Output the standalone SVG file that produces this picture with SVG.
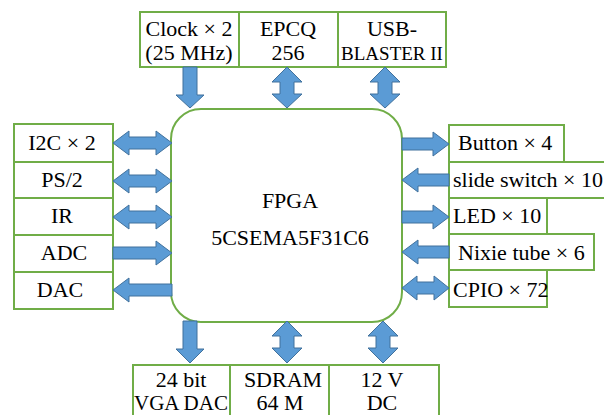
<svg xmlns="http://www.w3.org/2000/svg" width="604" height="415" viewBox="0 0 604 415">
<style>
.box{fill:#fff;stroke:#70AD47;stroke-width:2}
.t{font-family:"Liberation Serif","Times New Roman",serif;font-size:22px;fill:#000}
.m{text-anchor:middle}
.s{font-size:19px}
.b{font-size:21px}
.ar{fill:#5B9BD5;stroke:#41719C;stroke-width:1}
</style>
<rect width="604" height="415" fill="#fff"/>
<g id="fpga">
<rect class="box" x="171" y="109" width="231" height="213" rx="30"/>
<text class="t m" x="290" y="208">FPGA</text>
<text class="t m" x="290" y="245">5CSEMA5F31C6</text>
</g>
<g id="clock"><rect class="box" x="140" y="12" width="99" height="55"/><text class="t m" x="189" y="36">Clock × 2</text><text class="t m" x="189" y="60">(25 MHz)</text></g>
<g id="epcq"><rect class="box" x="239" y="12" width="99" height="55"/><text class="t m" x="288" y="36">EPCQ</text><text class="t m" x="288" y="60">256</text></g>
<g id="usb"><rect class="box" x="338" y="12" width="108" height="55"/><text class="t m" x="392" y="36">USB-</text><text class="t m s" x="392" y="60">BLASTER II</text></g>
<g id="i2c"><rect class="box" x="14" y="124" width="99" height="38"/><text class="t m" x="62" y="150">I2C × 2</text></g>
<g id="ps2"><rect class="box" x="14" y="162" width="99" height="36"/><text class="t m" x="62" y="187">PS/2</text></g>
<g id="ir"><rect class="box" x="14" y="198" width="99" height="37"/><text class="t m" x="62" y="223">IR</text></g>
<g id="adc"><rect class="box" x="14" y="235" width="99" height="37"/><text class="t m" x="64" y="260">ADC</text></g>
<g id="dac"><rect class="box" x="14" y="272" width="99" height="37"/><text class="t m" x="60" y="297">DAC</text></g>
<g id="button"><rect class="box" x="449" y="125" width="115" height="37"/><text class="t" x="458" y="150">Button × 4</text></g>
<g id="slide"><rect class="box" x="449" y="162" width="165" height="36"/><text class="t" x="453" y="187">slide switch × 10</text></g>
<g id="led"><rect class="box" x="449" y="198" width="98" height="36"/><text class="t" x="453" y="223">LED × 10</text></g>
<g id="nixie"><rect class="box" x="449" y="234" width="145" height="36"/><text class="t" x="458" y="260">Nixie tube × 6</text></g>
<g id="cpio"><rect class="box" x="449" y="270" width="98" height="37"/><text class="t" x="453" y="297">CPIO × 72</text></g>
<g id="vga"><rect class="box" x="133" y="365" width="97" height="60"/><text class="t m" x="181" y="387">24 bit</text><text class="t m b" x="181" y="410">VGA DAC</text></g>
<g id="sdram"><rect class="box" x="230" y="365" width="99" height="60"/><text class="t m" x="283" y="387">SDRAM</text><text class="t m" x="280" y="410">64 M</text></g>
<g id="dc"><rect class="box" x="329" y="365" width="110" height="60"/><text class="t m" x="382" y="387">12 V</text><text class="t m" x="382" y="410">DC</text></g>
<g id="connectors">
<polygon class="ar" points="113,143 129,131 129,137 156,137 156,131 172,143 156,155 156,149 129,149 129,155"/>
<polygon class="ar" points="113,181 129,169 129,175 156,175 156,169 172,181 156,193 156,187 129,187 129,193"/>
<polygon class="ar" points="113,217 129,205 129,211 156,211 156,205 172,217 156,229 156,223 129,223 129,229"/>
<polygon class="ar" points="113,247 156,247 156,241 172,253 156,265 156,259 113,259"/>
<polygon class="ar" points="172,284 129,284 129,278 113,290 129,302 129,296 172,296"/>
<polygon class="ar" points="402,138 433,138 433,132 449,144 433,156 433,150 402,150"/>
<polygon class="ar" points="449,174 418,174 418,168 402,180 418,192 418,186 449,186"/>
<polygon class="ar" points="402,211 433,211 433,205 449,217 433,229 433,223 402,223"/>
<polygon class="ar" points="449,246 418,246 418,240 402,252 418,264 418,258 449,258"/>
<polygon class="ar" points="402,288 417,276 417,282 434,282 434,276 449,288 434,300 434,294 417,294 417,300"/>
<polygon class="ar" points="183,67 197,67 197,95 204,95 190,108 176,95 183,95"/>
<polygon class="ar" points="287,67 302,82 294,82 294,94 302,94 287,108 272,94 280,94 280,82 272,82"/>
<polygon class="ar" points="385,67 400,82 392,82 392,94 400,94 385,108 370,94 378,94 378,82 370,82"/>
<polygon class="ar" points="183,321 197,321 197,349 204,349 190,363 176,349 183,349"/>
<polygon class="ar" points="287,321 302,336 294,336 294,348 302,348 287,363 272,348 280,348 280,336 272,336"/>
<polygon class="ar" points="383,321 398,336 390,336 390,348 398,348 383,363 368,348 376,348 376,336 368,336"/>
</g>
</svg>
